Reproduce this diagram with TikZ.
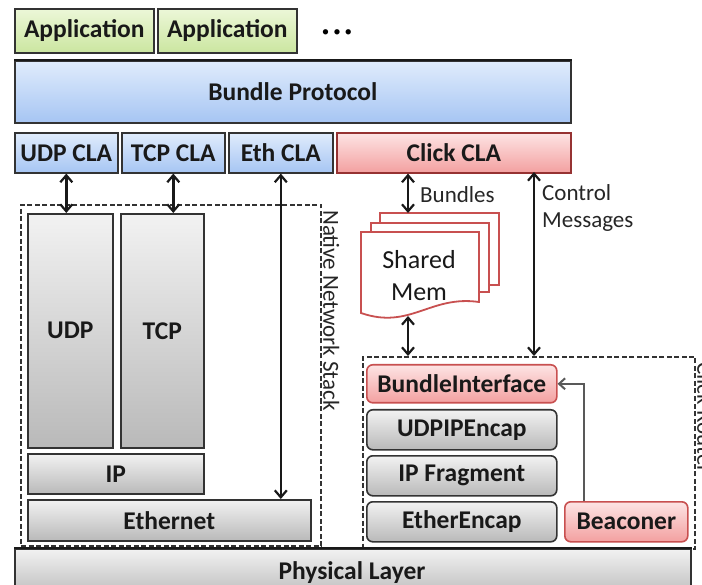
\documentclass[tikz,border=0pt]{standalone}
\usepackage{fontspec}
\setmainfont{Carlito}
\usetikzlibrary{arrows.meta}
\begin{document}
\begin{tikzpicture}[x=1pt,y=-1pt,
  lay/.style={draw=black!80, line width=1.6pt, anchor=north west, inner sep=0pt,
    font=\bfseries\fontsize{25.5}{25.5}\selectfont, text=black!90},
  appbox/.style={lay, top color={rgb,255:red,236;green,247;blue,216}, bottom color={rgb,255:red,203;green,230;blue,160}},
  bluebox/.style={lay, top color={rgb,255:red,224;green,236;blue,252}, bottom color={rgb,255:red,166;green,197;blue,243}},
  redbox/.style={lay, draw={rgb,255:red,150;green,50;blue,50}, top color={rgb,255:red,253;green,228;blue,228}, bottom color={rgb,255:red,243;green,160;blue,160}},
  graybox/.style={lay, top color={rgb,255:red,242;green,242;blue,242}, bottom color={rgb,255:red,185;green,185;blue,185}},
  rgray/.style={graybox, rounded corners=6pt},
  rred/.style={redbox, rounded corners=6pt, draw={rgb,255:red,200;green,80;blue,80}},
  groupbox/.style={draw=black!80, line width=2pt, dash pattern=on 5pt off 2.5pt, anchor=north west, inner sep=0pt},
  note/.style={font=\fontsize{23}{27}\selectfont, text=black!85, inner sep=0pt},
  tip/.tip={Straight Barb[length=7pt,width=12pt,line width=2.2pt]},
  dbl/.style={{tip}-{tip}, line width=2.4pt, draw=black!90},
  page/.style={draw={rgb,255:red,200;green,80;blue,80}, line width=1.8pt, fill=white}
]
\useasboundingbox (0,0) rectangle (702,585);

% application layer
\node[appbox, minimum width=139pt, minimum height=44pt] (app1) at (14,8) {Application};
\node[appbox, minimum width=139pt, minimum height=44pt] (app2) at (157,8) {Application};
\node[font=\fontsize{15}{15}\selectfont, inner sep=0pt] (dots) at (337,33) {\textbullet\kern4pt\textbullet\kern4pt\textbullet};

% bundle protocol
\node[bluebox, minimum width=556pt, minimum height=62pt] (bp) at (14,60) {Bundle Protocol};
\draw[line width=2.6pt, black!90] (bp.north west) -- (bp.north east);

% convergence layer adapters
\node[bluebox, minimum width=103pt, minimum height=40pt] (udpcla) at (14,132) {UDP CLA};
\node[bluebox, minimum width=103pt, minimum height=40pt] (tcpcla) at (121,132) {TCP CLA};
\node[bluebox, minimum width=104pt, minimum height=40pt] (ethcla) at (228,132) {Eth CLA};
\node[redbox, minimum width=234pt, minimum height=40pt] (clickcla) at (336,132) {Click CLA};

% native network stack
\node[groupbox, minimum width=300pt, minimum height=341pt] (nns) at (20,204) {};
\node[note, rotate=-90, anchor=south west] (nnslabel) at (323,210) {Native Network Stack};
\node[graybox, minimum width=85pt, minimum height=234pt] (udp) at (27,213) {UDP};
\node[graybox, minimum width=83pt, minimum height=234pt] (tcp) at (120,213) {TCP};
\node[graybox, minimum width=176pt, minimum height=40pt] (ip) at (27,453) {IP};
\node[graybox, minimum width=283pt, minimum height=41pt] (eth) at (27,499) {Ethernet};

% click router
\node[groupbox, minimum width=332pt, minimum height=192pt] (click) at (362,356) {};
\node[note, rotate=-90, anchor=south west] (clicklabel) at (697,362) {Click Router};
\node[rred, minimum width=190pt, minimum height=38pt] (bi) at (366,364) {BundleInterface};
\node[rgray, minimum width=190pt, minimum height=40pt] (udpip) at (366,409) {UDPIPEncap};
\node[rgray, minimum width=190pt, minimum height=40pt] (ipfrag) at (366,455) {IP Fragment};
\node[rgray, minimum width=190pt, minimum height=40pt] (ether) at (366,501) {EtherEncap};
\node[rred, minimum width=123pt, minimum height=40pt] (beac) at (564,501) {Beaconer};

% physical layer
\node[graybox, minimum width=676pt, minimum height=50pt] (phy) at (14,548) {};
\node[lay, draw=none, anchor=center, inner sep=0pt] (phylabel) at (352,573) {Physical Layer};
\draw[line width=2.6pt, black!90] (phy.north west) -- (phy.north east);

% shared memory pages
\draw[page] (380,213) rectangle (499,285);
\draw[page] (371,223) rectangle (489,292);
\draw[page] (361,232) -- (479,232) -- (479,302)
  .. controls (430,295) and (410,330) .. (361,313) -- cycle;
\node[font=\fontsize{26}{32}\selectfont, align=center, inner sep=0pt, text=black!90] (shm) at (419,276) {Shared\\Mem};
\coordinate (memtop) at (408,213);
\coordinate (membot) at (408,316);
\coordinate (ctrl) at (534,172);

% connectors
\draw[dbl] (udpcla.south) -- (udpcla.south |- udp.north);
\draw[dbl] (tcpcla.south) -- (tcpcla.south |- tcp.north);
\draw[dbl] (ethcla.south) -- (ethcla.south |- eth.north);
\draw[dbl] (memtop |- clickcla.south) -- (memtop);
\draw[dbl] (membot) -- (membot |- click.north);
\draw[dbl] (ctrl) -- (ctrl |- click.north);
\draw[-{Straight Barb[length=6pt,width=11pt,line width=2pt]}, line width=2pt, black!65]
  (beac.north -| 584,0) |- (bi.east);

\node[note, anchor=west] (bundles) at (420,195) {Bundles};
\node[note, anchor=north west, align=left] (ctrlmsg) at (542,184) {Control\\Messages};
\end{tikzpicture}
\end{document}
